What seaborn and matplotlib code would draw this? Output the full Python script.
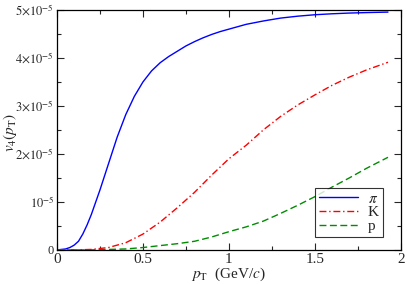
import matplotlib
matplotlib.use("Agg")
import matplotlib.pyplot as plt
import seaborn as sns
import pandas as pd
from matplotlib.ticker import MultipleLocator, FuncFormatter

# p_T grid (GeV/c) and v4 values in units of 1e-5
pt = [0.0, 0.05, 0.075, 0.1, 0.125, 0.15, 0.175, 0.2, 0.25, 0.3, 0.35, 0.4,
      0.45, 0.5, 0.55, 0.6, 0.65, 0.7, 0.75, 0.8, 0.85, 0.9, 0.95, 1.0,
      1.1, 1.2, 1.3, 1.4, 1.5, 1.6, 1.7, 1.8, 1.925]
v4_pi = [0.0, 0.02, 0.05, 0.1, 0.18, 0.33, 0.52, 0.74, 1.25, 1.8, 2.35, 2.82,
         3.2, 3.5, 3.73, 3.9, 4.03, 4.14, 4.25, 4.34, 4.42, 4.49, 4.55, 4.6,
         4.7, 4.77, 4.83, 4.87, 4.9, 4.92, 4.935, 4.945, 4.955]

pt_k = [0.0, 0.1, 0.2, 0.3, 0.4, 0.5, 0.6, 0.7, 0.8, 0.9, 1.0, 1.1, 1.2,
        1.3, 1.4, 1.5, 1.6, 1.7, 1.8, 1.925]
v4_k = [0.0, 0.0, 0.01, 0.05, 0.15, 0.33, 0.58, 0.88, 1.2, 1.56, 1.9, 2.18,
        2.5, 2.78, 3.02, 3.23, 3.43, 3.6, 3.75, 3.91]
v4_p = [0.0, 0.0, 0.0, 0.01, 0.02, 0.05, 0.09, 0.13, 0.18, 0.27, 0.38, 0.48,
        0.6, 0.76, 0.93, 1.11, 1.31, 1.5, 1.7, 1.93]

sns.set_style("ticks")
plt.rcParams["font.family"] = ["Liberation Serif", "DejaVu Serif"]
plt.rcParams["mathtext.fontset"] = "stix"
plt.rcParams["xtick.direction"] = "in"
plt.rcParams["ytick.direction"] = "in"

df_pi = pd.DataFrame({"pt": pt, "v4": [v * 1e-5 for v in v4_pi]})
df_k = pd.DataFrame({"pt": pt_k, "v4": [v * 1e-5 for v in v4_k]})
df_p = pd.DataFrame({"pt": pt_k, "v4": [v * 1e-5 for v in v4_p]})

fig = plt.figure(figsize=(4.07, 2.84), dpi=100)
ax = fig.add_axes([0.140, 0.120, 0.845, 0.845])

sns.lineplot(data=df_pi, x="pt", y="v4", ax=ax, color="#0000ff", lw=1.0,
             label=r"$\pi$")
sns.lineplot(data=df_k, x="pt", y="v4", ax=ax, color="#ff0000", lw=1.0,
             label="K")
ax.lines[-1].set_dashes([5, 2, 1, 2])
sns.lineplot(data=df_p, x="pt", y="v4", ax=ax, color="#008c00", lw=1.0,
             label="p")
ax.lines[-1].set_dashes([5, 2.5])

ax.set_xlim(0, 2)
ax.set_ylim(0, 5e-5)
ax.xaxis.set_major_locator(MultipleLocator(0.5))
ax.xaxis.set_minor_locator(MultipleLocator(0.25))
ax.yaxis.set_major_locator(MultipleLocator(1e-5))
ax.yaxis.set_minor_locator(MultipleLocator(0.5e-5))


def yfmt(v, pos):
    n = int(round(v / 1e-5))
    if n == 0:
        return "0"
    if n == 1:
        return r"$10^{-5}$"
    return r"$%d{\times}10^{-5}$" % n


def xfmt(v, pos):
    return "%g" % v


ax.yaxis.set_major_formatter(FuncFormatter(yfmt))
ax.xaxis.set_major_formatter(FuncFormatter(xfmt))
ax.tick_params(which="both", top=True, right=True, width=0.8, pad=2)
ax.tick_params(axis="y", labelsize=9)
ax.tick_params(axis="x", labelsize=11)
ax.tick_params(which="major", length=5)
ax.tick_params(which="minor", length=3)
for s in ax.spines.values():
    s.set_linewidth(0.9)
    s.set_color("black")

ax.set_xlabel(r"$p_{\mathrm{T}}$  (GeV/$c$)", fontsize=11, labelpad=0)
ax.set_ylabel(r"$v_4(p_{\mathrm{T}})$", fontsize=11, va="center")
ax.yaxis.set_label_coords(-0.138, 0.49)

leg = ax.legend(loc="lower left", bbox_to_anchor=(0.75, 0.054), fontsize=11,
                frameon=True, fancybox=False, handlelength=2.6,
                handletextpad=0.6, borderpad=0.25, labelspacing=0.0,
                borderaxespad=0)
leg.get_frame().set_edgecolor("black")
leg.get_frame().set_linewidth(0.8)

fig.savefig("out.png", dpi=100)
